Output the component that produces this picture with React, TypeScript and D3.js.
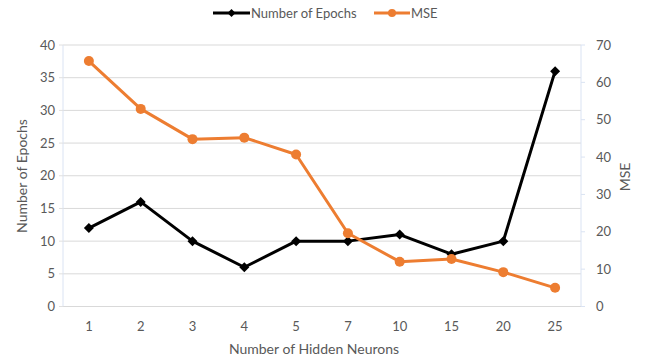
import React from "react";
import * as d3 from "d3";

const categories = ["1", "2", "3", "4", "5", "7", "10", "15", "20", "25"];
const epochs = [12, 16, 10, 6, 10, 10, 11, 8, 10, 36];
const mse = [65.7, 52.9, 44.8, 45.2, 40.7, 19.6, 12.0, 12.7, 9.2, 5.0];
const leftTicks = [0, 5, 10, 15, 20, 25, 30, 35, 40];
const rightTicks = [0, 10, 20, 30, 40, 50, 60, 70];

const W = 649;
const H = 359;
const m = { left: 63, right: 581, top: 45, bottom: 306.5 };
const FONT = "Lato, 'Open Sans', sans-serif";
const TXT = "#595959";
const ORANGE = "#ED7D31";

export default function App() {
  const x = d3.scaleBand().domain(categories).range([m.left, m.right]);
  const yL = d3.scaleLinear().domain([0, 40]).range([m.bottom, m.top]);
  const yR = d3.scaleLinear().domain([0, 70]).range([m.bottom, m.top]);
  const cx = (c: string) => (x(c) as number) + x.bandwidth() / 2;

  const lineL = d3
    .line<number>()
    .x((_, i) => cx(categories[i]))
    .y((d) => yL(d));
  const lineR = d3
    .line<number>()
    .x((_, i) => cx(categories[i]))
    .y((d) => yR(d));

  const diamond = (px: number, py: number, s = 5) =>
    `M${px},${py - s}L${px + s},${py}L${px},${py + s}L${px - s},${py}Z`;

  return (
    <svg
      width={W}
      height={H}
      style={{ position: "absolute", left: 0, top: 0, background: "#fff" }}
      fontFamily={FONT}
    >
      <rect width={W} height={H} fill="#fff" />
      {/* gridlines */}
      {leftTicks.map((t) => (
        <line
          key={"g" + t}
          x1={m.left}
          x2={m.right}
          y1={yL(t)}
          y2={yL(t)}
          stroke="#d9d9d9"
          strokeWidth={1}
        />
      ))}
      {/* axis lines */}
      <line x1={m.left} x2={m.left} y1={m.top} y2={m.bottom} stroke="#dae3f3" strokeWidth={1} />
      <line x1={m.right} x2={m.right} y1={m.top} y2={m.bottom} stroke="#dae3f3" strokeWidth={1} />
      {rightTicks.map((t) => (
        <line key={"rt" + t} x1={m.right} x2={m.right + 4} y1={yR(t)} y2={yR(t)} stroke="#dae3f3" />
      ))}
      {leftTicks.map((t) => (
        <line key={"lt" + t} x1={m.left - 4} x2={m.left} y1={yL(t)} y2={yL(t)} stroke="#e0e0e0" />
      ))}
      {/* left tick labels */}
      {leftTicks.map((t) => (
        <text
          key={"l" + t}
          x={55}
          y={yL(t)}
          dy="0.35em"
          textAnchor="end"
          fontSize={13}
          fill={TXT}
        >
          {t}
        </text>
      ))}
      {/* right tick labels */}
      {rightTicks.map((t) => (
        <text key={"r" + t} x={596} y={yR(t)} dy="0.35em" textAnchor="start" fontSize={13} fill={TXT}>
          {t}
        </text>
      ))}
      {/* x tick labels */}
      {categories.map((c) => (
        <text key={"x" + c} x={cx(c)} y={326} dy="0.35em" textAnchor="middle" fontSize={13} fill={TXT}>
          {c}
        </text>
      ))}
      {/* axis titles */}
      <text
        x={314}
        y={349}
        dy="0.35em"
        textAnchor="middle"
        fontSize={14}
        fill={TXT}
      >
        Number of Hidden Neurons
      </text>
      <text
        transform={`translate(22,176) rotate(-90)`}
        dy="0.35em"
        textAnchor="middle"
        fontSize={14}
        fill={TXT}
      >
        Number of Epochs
      </text>
      <text
        transform={`translate(625,177) rotate(-90)`}
        dy="0.35em"
        textAnchor="middle"
        fontSize={14}
        fill={TXT}
      >
        MSE
      </text>
      {/* series */}
      <path d={lineL(epochs) as string} fill="none" stroke="#000" strokeWidth={3} strokeLinejoin="round" />
      {epochs.map((v, i) => (
        <path key={"d" + i} d={diamond(cx(categories[i]), yL(v))} fill="#000" />
      ))}
      <path d={lineR(mse) as string} fill="none" stroke={ORANGE} strokeWidth={3} strokeLinejoin="round" />
      {mse.map((v, i) => (
        <circle key={"c" + i} cx={cx(categories[i])} cy={yR(v)} r={5} fill={ORANGE} />
      ))}
      {/* legend */}
      <line x1={213} x2={250} y1={13} y2={13} stroke="#000" strokeWidth={3} />
      <path d={diamond(231.5, 13, 4)} fill="#000" />
      <text x={251} y={13} dy="0.35em" fontSize={13} fill={TXT}>
        Number of Epochs
      </text>
      <line x1={374} x2={410} y1={13} y2={13} stroke={ORANGE} strokeWidth={3} />
      <circle cx={392} cy={13} r={4} fill={ORANGE} />
      <text x={411} y={13} dy="0.35em" fontSize={13} fill={TXT}>
        MSE
      </text>
    </svg>
  );
}
